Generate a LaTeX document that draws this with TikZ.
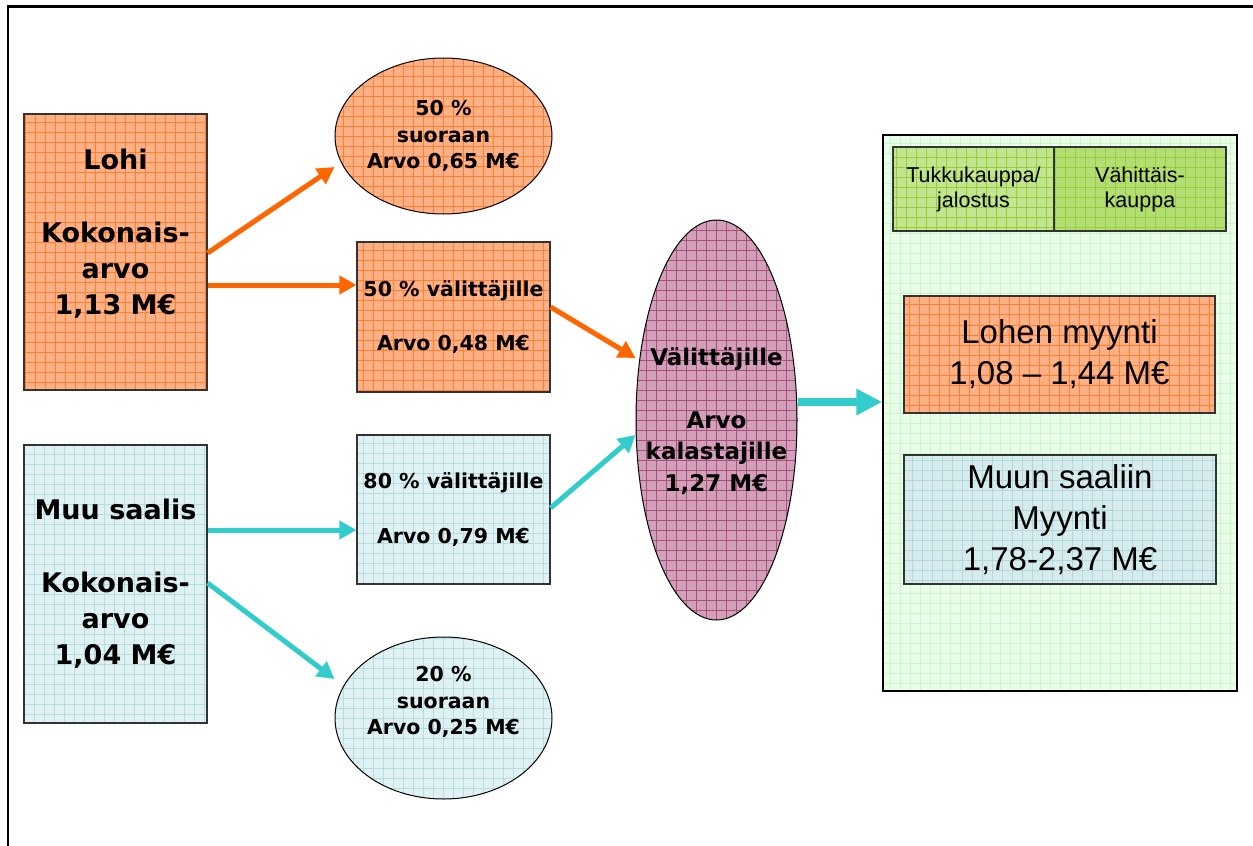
\documentclass[tikz,border=0pt]{standalone}
\usepackage{fontspec}
\setmainfont{Liberation Sans}
\newfontfamily\dv{DejaVu Sans}
\usetikzlibrary{arrows.meta,calc,shapes.geometric}

\definecolor{orfill}{HTML}{FFB084}
\definecolor{orgrid}{HTML}{FF8033}
\definecolor{orarrow}{HTML}{FF6600}
\definecolor{cyfill}{HTML}{DFF1F3}
\definecolor{cygrid}{HTML}{B5DEDF}
\definecolor{cyarrow}{HTML}{33CCCC}
\definecolor{pufill}{HTML}{D3A0BA}
\definecolor{pugrid}{HTML}{A8507E}
\definecolor{grfill}{HTML}{E8FFE8}
\definecolor{grgrid}{HTML}{CCF5CC}
\definecolor{lgfill}{HTML}{C2E68F}
\definecolor{lggrid}{HTML}{9ACD3A}
\definecolor{lgtwofill}{HTML}{B3DE74}
\definecolor{mufill}{HTML}{D6ECEC}
\definecolor{mugrid}{HTML}{B4D6DE}

\begin{document}
\begin{tikzpicture}[x=1pt,y=-1pt,
  gridfill/.style n args={2}{fill=#1, path picture={\draw[#2, line width=0.7pt] (path picture bounding box.south west) grid[step=10pt] (path picture bounding box.north east);}},
  box/.style={draw=black!80, line width=1.2pt, rectangle, inner sep=0pt, align=center},
  oval/.style={draw=black, line width=1pt, ellipse, inner sep=0pt, align=center},
  bigtxt/.style={font=\dv\bfseries\fontsize{27}{36}\selectfont, align=center},
  midtxt/.style={font=\dv\bfseries\fontsize{20.5}{26.5}\selectfont, align=center},
  puptxt/.style={font=\dv\bfseries\fontsize{23}{31.5}\selectfont, align=center},
  smalltxt/.style={font=\fontsize{21.5}{25}\selectfont},
  rbigtxt/.style={font=\fontsize{33}{41}\selectfont},
  orarr/.style={draw=orarrow, line width=5pt, -{Triangle[length=17pt,width=18pt]}},
  cyarr/.style={draw=cyarrow, line width=5pt, -{Triangle[length=17pt,width=18pt]}},
  bigarr/.style={draw=cyarrow, line width=8pt, -{Triangle[length=26pt,width=25pt]}}
]
\useasboundingbox (0,0) rectangle (1253,846);
\draw[line width=2.5pt] (1253,6.5) -- (8,6.5) -- (8,846);

% left boxes
\node[box, gridfill={orfill}{orgrid}, minimum width=183pt, minimum height=276pt] (lohi) at (115.5,252) {};
\node[bigtxt] (lohitxt) at (115.5,234) {Lohi\\[37pt]Kokonais-\\arvo\\1,13 M€};
\node[box, gridfill={cyfill}{cygrid}, bigtxt, minimum width=183pt, minimum height=278pt] (muu) at (115.5,584) {Muu saalis\\[37pt]Kokonais-\\arvo\\1,04 M€};

% middle column
\node[oval, gridfill={orfill}{orgrid}, minimum width=217pt, minimum height=156pt] (e1) at (443.5,136) {};
\node[midtxt] (e1txt) at (443.5,136) {50 \%\\suoraan\\Arvo 0,65 M€};
\node[box, gridfill={orfill}{orgrid}, midtxt, minimum width=193pt, minimum height=150pt] (b1) at (453.5,317) {50 \% välittäjille\\[28pt]Arvo 0,48 M€};
\node[box, gridfill={cyfill}{cygrid}, midtxt, minimum width=193pt, minimum height=149pt] (b2) at (453.5,509.5) {80 \% välittäjille\\[28pt]Arvo 0,79 M€};
\node[oval, gridfill={cyfill}{cygrid}, minimum width=217pt, minimum height=162pt] (e2) at (443.5,718) {};
\node[midtxt] (e2txt) at (443.5,702) {20 \%\\suoraan\\Arvo 0,25 M€};

% purple ellipse
\node[oval, gridfill={pufill}{pugrid}, minimum width=161pt, minimum height=400pt] (vt) at (716.5,420) {};
\node[puptxt] (vttxt) at (716.5,421) {Välittäjille\\[31.5pt]Arvo\\kalastajille\\1,27 M€};

% right container
\node[draw=black, line width=1.5pt, rectangle, gridfill={grfill}{grgrid}, minimum width=354pt, minimum height=556pt] (green) at (1060,413) {};
\node[box, gridfill={lgfill}{lggrid}, smalltxt, minimum width=161pt, minimum height=84pt] (tk) at (973.5,189) {Tukkukauppa/\\jalostus};
\node[box, gridfill={lgtwofill}{lggrid}, smalltxt, minimum width=172pt, minimum height=84pt] (vk) at (1140,189) {Vähittäis-\\kauppa};
\node[box, gridfill={orfill}{orgrid}, rbigtxt, minimum width=311pt, minimum height=117pt] (lm) at (1059.5,354.5) {Lohen myynti\\1,08 – 1,44 M€};
\node[box, gridfill={mufill}{mugrid}, rbigtxt, minimum width=312pt, minimum height=129pt] (mm) at (1060,519.5) {Muun saaliin\\Myynti\\1,78-2,37 M€};

% arrows
\draw[orarr] ($(lohi.east)+(0,1)$) -- ($(e1.west)+(0,31)$);
\draw[orarr] ($(lohi.east)+(0,33)$) -- ($(b1.west)+(0,-32)$);
\draw[orarr] ($(b1.east)+(0,-10)$) -- ($(vt.west)+(0,-62)$);
\draw[cyarr] ($(muu.east)+(0,-54)$) -- ($(b2.west)+(0,20.5)$);
\draw[cyarr] ($(muu.east)+(0,-1)$) -- ($(e2.west)+(0,-39)$);
\draw[cyarr] ($(b2.east)+(0,-1.5)$) -- ($(vt.west)+(0,15)$);
\draw[bigarr] ($(vt.east)+(0,-18)$) -- ($(green.west)+(0,-11)$);
\end{tikzpicture}
\end{document}
